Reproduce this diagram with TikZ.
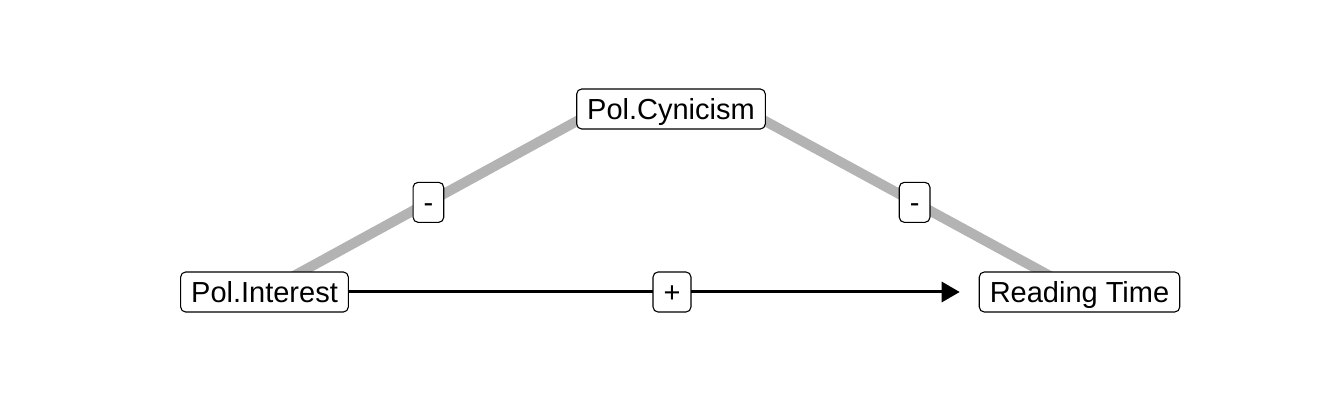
\documentclass[tikz,border=0pt]{standalone}
\usepackage{fontspec}
\setmainfont{Liberation Sans}
\usetikzlibrary{arrows.meta,calc,backgrounds}
\tikzset{
  varbox/.style={draw=black, fill=white, rounded corners=5pt, line width=1.1pt,
    inner xsep=10.5pt, inner ysep=9.5pt, text height=21pt, text depth=0pt,
    font=\fontsize{29}{34}\selectfont},
  lbl/.style={varbox},
  negedge/.style={draw={rgb,255:red,179;green,179;blue,179}, line width=10pt},
  posedge/.style={draw=black, line width=3pt, -{Triangle[length=18pt,width=20pt]}}
}
\begin{document}
\begin{tikzpicture}[x=1pt,y=-1pt]
\useasboundingbox (0,0) rectangle (1344,403);
\node[varbox] (A) at (264.5,292) {Pol.Interest};
\node[varbox] (C) at (671,109) {Pol.Cynicism};
\node[varbox] (B) at (1079.5,292) {Reading Time};
\coordinate (CL) at ($(C.center)+(-72,0)$);
\coordinate (CR) at ($(C.center)+(72,0)$);
\begin{scope}[on background layer]
  \fill[white] (0,0) rectangle (1344,403);
  \draw[negedge] (A.center) -- node[lbl,pos=0.49] (l1) {-} (CL);
  \draw[negedge] (B.center) -- node[lbl,pos=0.49] (l2) {-} (CR);
\end{scope}
\draw[posedge, shorten >=19pt] (A) -- (B);
\path (A.center) -- node[lbl] (l3) {+} (B.center);
\end{tikzpicture}
\end{document}
